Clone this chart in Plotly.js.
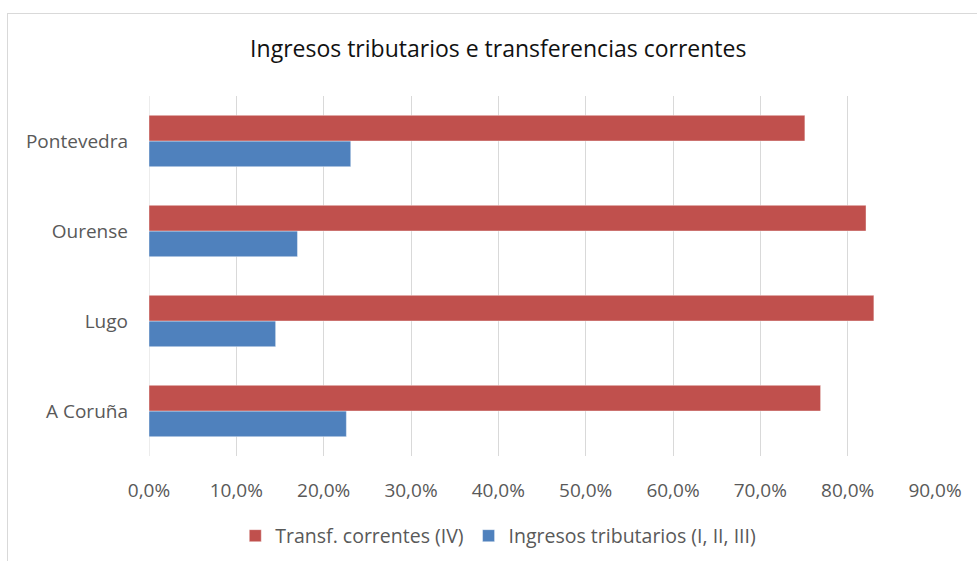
<!DOCTYPE html>
<html>
<head>
<meta charset="utf-8">
<script src="https://cdn.plot.ly/plotly-3.0.1.min.js"></script>
<style>
html,body{margin:0;padding:0;background:#fff;overflow:hidden;}
#chart{width:977px;height:561px;position:absolute;left:0;top:0;}
#frame{position:absolute;left:7px;top:13px;width:1000px;height:600px;border:1px solid #d9d9d9;pointer-events:none;}
</style>
</head>
<body>
<div id="chart"></div>
<div id="frame"></div>
<script>
const categories = ["A Coruña", "Lugo", "Ourense", "Pontevedra"];
const transfCorrentes = [0.769, 0.830, 0.821, 0.751];
const ingresosTributarios = [0.226, 0.145, 0.170, 0.231];
const seriesNames = ["Transf. correntes (IV)", "Ingresos tributarios (I, II, III)"];
const xTicks = [0, 0.1, 0.2, 0.3, 0.4, 0.5, 0.6, 0.7, 0.8, 0.9];

const FONT = "'Open Sans', 'Liberation Sans', sans-serif";

const traces = [
  {
    type: "bar", orientation: "h",
    name: seriesNames[1],
    y: categories, x: ingresosTributarios,
    marker: {color: "#4F81BD", line: {color: "rgba(255,255,255,0.4)", width: 1}},
    hoverinfo: "x+y"
  },
  {
    type: "bar", orientation: "h",
    name: seriesNames[0],
    y: categories, x: transfCorrentes,
    marker: {color: "#C0504D", line: {color: "rgba(255,255,255,0.4)", width: 1}},
    hoverinfo: "x+y"
  }
];

const layout = {
  width: 977, height: 561,
  paper_bgcolor: "rgba(0,0,0,0)", plot_bgcolor: "#fff",
  separators: ",.",
  margin: {l: 148.5, r: 42, t: 96, b: 105, pad: 0},
  font: {family: FONT, color: "#595959", size: 18},
  title: {
    text: "Ingresos tributarios e transferencias correntes",
    font: {family: FONT, size: 23, color: "#111"},
    x: 0.51, xref: "container", xanchor: "center",
    y: 1 - 49/561, yref: "container", yanchor: "middle"
  },
  barmode: "group",
  bargap: 0.43,
  bargroupgap: 0,
  xaxis: {
    range: [0, 0.9],
    tickvals: xTicks,
    tickformat: ".1%",
    showgrid: true, gridcolor: "#d9d9d9", gridwidth: 1,
    zeroline: false, showline: false,
    ticks: "", ticklabelstandoff: 21,
    tickfont: {family: FONT, size: 19, color: "#595959"},
    fixedrange: true
  },
  yaxis: {
    showgrid: false, zeroline: false, showline: false,
    ticks: "", ticklabelstandoff: 20,
    tickfont: {family: FONT, size: 19, color: "#595959"},
    fixedrange: true
  },
  showlegend: true,
  legend: {
    orientation: "h", traceorder: "reversed",
    x: 0.51, xref: "container", xanchor: "center",
    y: 1 - 536/561, yref: "container", yanchor: "middle",
    font: {family: FONT, size: 19.5, color: "#595959"},
    itemwidth: 30, bgcolor: "rgba(0,0,0,0)"
  },
  shapes: [
    {type: "line", xref: "x", yref: "paper", x0: 0, x1: 0, y0: 0, y1: 1,
     line: {color: "#d9d9d9", width: 1}, layer: "below"}
  ]
};

Plotly.newPlot("chart", traces, layout, {displayModeBar: false, staticPlot: true});
</script>
</body>
</html>
